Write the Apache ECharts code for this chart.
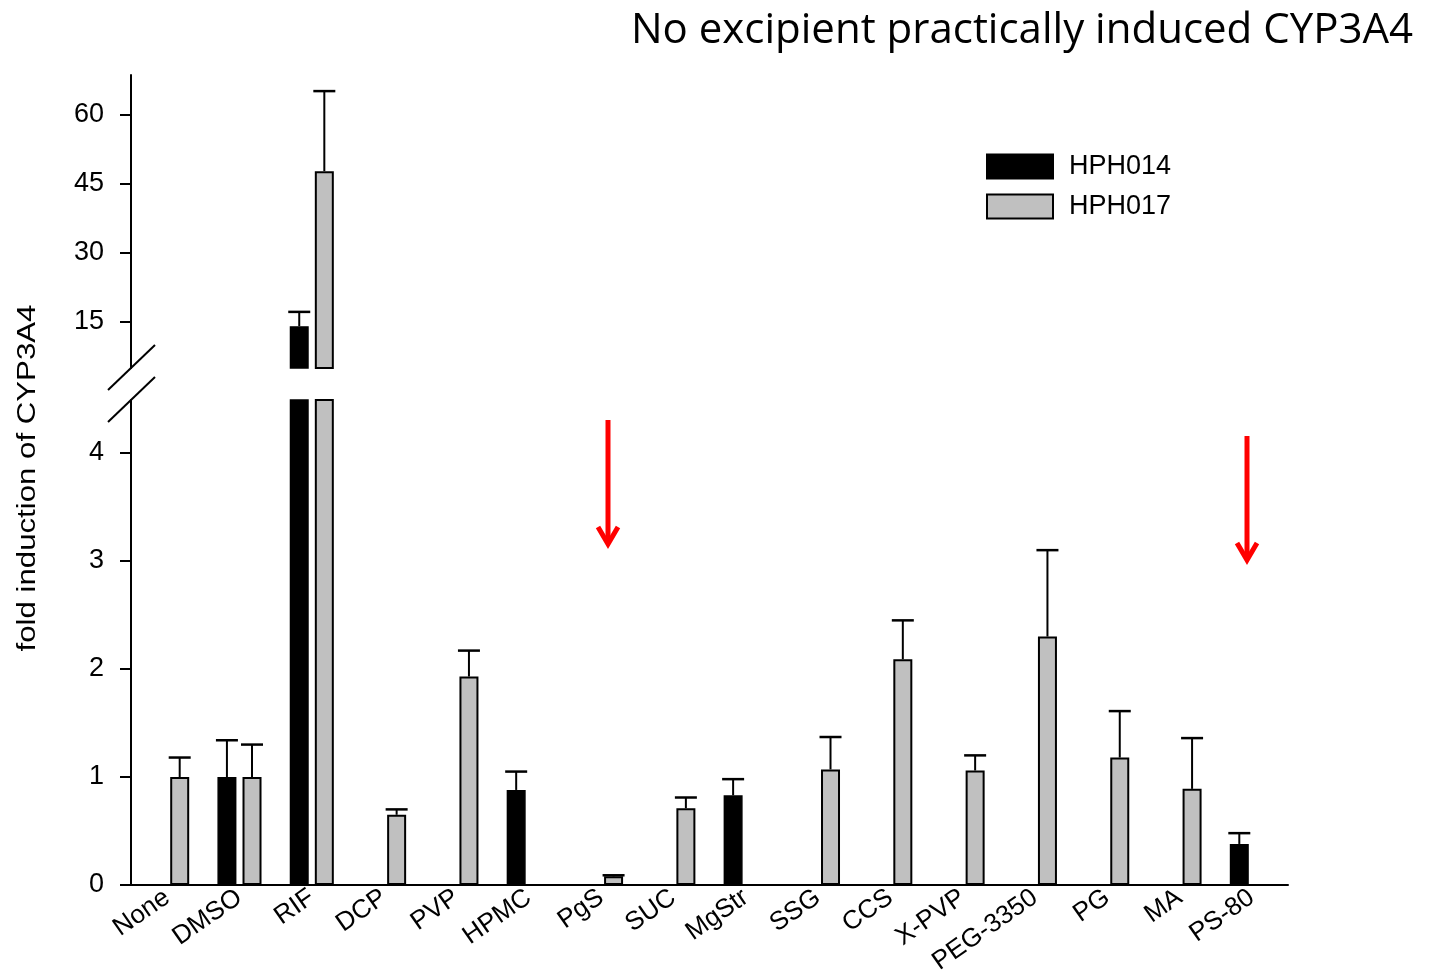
<!DOCTYPE html>
<html>
<head>
<meta charset="utf-8">
<title>CYP3A4 induction</title>
<script src="https://cdn.jsdelivr.net/npm/echarts@6/dist/echarts.min.js"></script>
<style>
  html, body { margin: 0; padding: 0; background: #fff; }
  #chart { width: 1431px; height: 975px; }
</style>
</head>
<body>
<div id="chart"></div>
<script>
// Excipients tested
const categories = ['None', 'DMSO', 'RIF', 'DCP', 'PVP', 'HPMC', 'PgS', 'SUC', 'MgStr',
  'SSG', 'CCS', 'X-PVP', 'PEG-3350', 'PG', 'MA', 'PS-80'];

// Mean fold induction and upper error (SD) per donor
const hph014 = [null, 1.00, 14.1, null, null, 0.88, null, null, 0.83, null, null, null, null, null, null, 0.38];
const hph014Err = [null, 0.34, 3.1, null, null, 0.17, null, null, 0.15, null, null, null, null, null, null, 0.10];
const hph017 = [1.00, 1.00, 47.8, 0.65, 1.93, null, 0.08, 0.71, null, 1.07, 2.09, 1.06, 2.30, 1.18, 0.89, null];
const hph017Err = [0.18, 0.30, 17.4, 0.05, 0.24, null, 0.01, 0.10, null, 0.30, 0.36, 0.14, 0.80, 0.43, 0.47, null];

// Tick labels of the broken value axis
const lowerTicks = [0, 1, 2, 3, 4];
const upperTicks = [15, 30, 45, 60];

// Axis break: lower panel 0..LOWER_MAX, upper panel UPPER_MIN..UPPER_MAX
const LOWER_MAX = 4.49;
const UPPER_MIN = 5;
const UPPER_MAX = 68.7;

const FONT = '"Liberation Sans", Arial, sans-serif';
const BAR_W = 19;
const BAR_GAP = 0.32;
const OFFSET = (BAR_W + BAR_W * BAR_GAP) / 2;
const CAP = 22;

const GREY = '#c0c0c0';

function errRows(means, errs, keep) {
  const rows = [];
  means.forEach((m, i) => {
    if (m == null || errs[i] == null) return;
    if (!keep(m, errs[i])) return;
    rows.push([i, m, errs[i]]);
  });
  return rows;
}

// Upward error whisker with a flat cap, shifted onto its bar
function errRenderer(offset) {
  return function (params, api) {
    const x = api.value(0), m = api.value(1), e = api.value(2);
    const base = api.coord([x, m]);
    const top = api.coord([x, m + e]);
    const cx = base[0] + offset;
    return {
      type: 'group',
      children: [
        { type: 'line', shape: { x1: cx, y1: base[1], x2: cx, y2: top[1] },
          style: { stroke: '#000', lineWidth: 2 } },
        { type: 'line', shape: { x1: cx - CAP / 2, y1: top[1], x2: cx + CAP / 2, y2: top[1] },
          style: { stroke: '#000', lineWidth: 2.5 } }
      ]
    };
  };
}

const inUpper = v => (v != null && v >= UPPER_MIN ? v : null);

const barStyle014 = { color: '#000', borderColor: '#000', borderWidth: 1.5 };
const barStyle017 = { color: GREY, borderColor: '#000', borderWidth: 2 };

const yAxisCommon = {
  type: 'value',
  splitLine: { show: false },
  axisLine: { show: true, lineStyle: { color: '#000', width: 2 } },
  axisTick: { show: true, inside: false, length: 11, lineStyle: { color: '#000', width: 2 } },
  axisLabel: { color: '#000', fontSize: 27, fontFamily: FONT, margin: 27 }
};

const chart = echarts.init(document.getElementById('chart'), null, { renderer: 'canvas' });

chart.setOption({
  backgroundColor: '#fff',
  animation: false,
  title: {
    text: 'No excipient practically induced CYP3A4',
    right: 13,
    top: 5,
    textStyle: { fontFamily: '"Open Sans", "Noto Sans", sans-serif', fontWeight: 'normal', fontSize: 42, color: '#000' }
  },
  legend: {
    orient: 'vertical',
    left: 981,
    top: 148,
    itemWidth: 66,
    itemHeight: 24,
    itemGap: 13,
    icon: 'rect',
    data: ['HPH014', 'HPH017'],
    textStyle: { fontFamily: FONT, fontSize: 27, color: '#000', padding: [0, 0, 0, 11] }
  },
  grid: [
    { left: 131, right: 143, top: 400, bottom: 90, outerBoundsMode: 'none' },   // lower panel
    { left: 131, right: 143, top: 75, bottom: 607, outerBoundsMode: 'none' }    // upper panel
  ],
  xAxis: [
    {
      gridIndex: 0,
      type: 'category',
      data: categories,
      axisLine: { lineStyle: { color: '#000', width: 2 } },
      axisTick: { show: false },
      axisLabel: { color: '#000', fontSize: 26, fontFamily: FONT, rotate: 35, margin: 10, interval: 0 }
    },
    { gridIndex: 1, type: 'category', data: categories, show: false }
  ],
  yAxis: [
    Object.assign({}, yAxisCommon, {
      gridIndex: 0, min: 0, max: LOWER_MAX,
      axisTick: Object.assign({}, yAxisCommon.axisTick, { customValues: lowerTicks }),
      axisLabel: Object.assign({}, yAxisCommon.axisLabel, { customValues: lowerTicks })
    }),
    Object.assign({}, yAxisCommon, {
      gridIndex: 1, min: UPPER_MIN, max: UPPER_MAX,
      axisTick: Object.assign({}, yAxisCommon.axisTick, { customValues: upperTicks }),
      axisLabel: Object.assign({}, yAxisCommon.axisLabel, { customValues: upperTicks })
    })
  ],
  series: [
    { name: 'HPH014', type: 'bar', xAxisIndex: 0, yAxisIndex: 0, data: hph014,
      barWidth: BAR_W, barGap: (BAR_GAP * 100) + '%', itemStyle: barStyle014 },
    { name: 'HPH017', type: 'bar', xAxisIndex: 0, yAxisIndex: 0, data: hph017,
      barWidth: BAR_W, barGap: (BAR_GAP * 100) + '%', itemStyle: barStyle017 },
    { name: 'HPH014', type: 'bar', xAxisIndex: 1, yAxisIndex: 1, data: hph014.map(inUpper),
      barWidth: BAR_W, barGap: (BAR_GAP * 100) + '%', itemStyle: barStyle014 },
    { name: 'HPH017', type: 'bar', xAxisIndex: 1, yAxisIndex: 1, data: hph017.map(inUpper),
      barWidth: BAR_W, barGap: (BAR_GAP * 100) + '%', itemStyle: barStyle017 },
    { type: 'custom', xAxisIndex: 0, yAxisIndex: 0, clip: true, z: 3,
      data: errRows(hph014, hph014Err, (m, e) => m + e <= LOWER_MAX),
      renderItem: errRenderer(-OFFSET) },
    { type: 'custom', xAxisIndex: 0, yAxisIndex: 0, clip: true, z: 3,
      data: errRows(hph017, hph017Err, (m, e) => m + e <= LOWER_MAX),
      renderItem: errRenderer(OFFSET) },
    { type: 'custom', xAxisIndex: 1, yAxisIndex: 1, clip: true, z: 3,
      data: errRows(hph014, hph014Err, m => m >= UPPER_MIN),
      renderItem: errRenderer(-OFFSET) },
    { type: 'custom', xAxisIndex: 1, yAxisIndex: 1, clip: true, z: 3,
      data: errRows(hph017, hph017Err, m => m >= UPPER_MIN),
      renderItem: errRenderer(OFFSET) }
  ],
  graphic: [
    // y-axis title
    {
      type: 'text', x: 28, y: 478, rotation: Math.PI / 2, scaleX: 1.2,
      style: { text: 'fold induction of CYP3A4', font: '26px ' + FONT, fill: '#000',
        align: 'center', verticalAlign: 'middle' }
    },
    // axis break marks
    { type: 'line', shape: { x1: 108, y1: 390, x2: 155, y2: 345 }, style: { stroke: '#000', lineWidth: 2 } },
    { type: 'line', shape: { x1: 108, y1: 422, x2: 155, y2: 377 }, style: { stroke: '#000', lineWidth: 2 } },
    // red arrows
    { type: 'line', shape: { x1: 608, y1: 420, x2: 608, y2: 543 }, style: { stroke: '#ff0000', lineWidth: 5 } },
    { type: 'polyline', shape: { points: [[598, 527], [608, 544], [618, 527]] },
      style: { stroke: '#ff0000', lineWidth: 5, fill: null, lineJoin: 'miter' } },
    { type: 'line', shape: { x1: 1247, y1: 436, x2: 1247, y2: 559 }, style: { stroke: '#ff0000', lineWidth: 5 } },
    { type: 'polyline', shape: { points: [[1237, 543], [1247, 560], [1257, 543]] },
      style: { stroke: '#ff0000', lineWidth: 5, fill: null, lineJoin: 'miter' } }
  ]
});
</script>
</body>
</html>
